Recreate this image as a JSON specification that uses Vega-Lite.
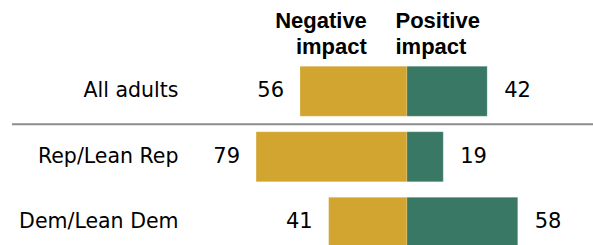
{
  "$schema": "https://vega.github.io/schema/vega-lite/v6.json",
  "width": 403,
  "height": 248,
  "autosize": {"type": "none"},
  "padding": {"left": 190, "top": 0, "right": 0, "bottom": 0},
  "background": "white",
  "config": {"view": {"stroke": null}, "font": "DejaVu Sans"},
  "datasets": {
    "bars": [
      {"group": "All adults", "impact": "Negative", "pct": 56, "lo": -56, "hi": 0},
      {"group": "All adults", "impact": "Positive", "pct": 42, "lo": 0, "hi": 42},
      {"group": "Rep/Lean Rep", "impact": "Negative", "pct": 79, "lo": -79, "hi": 0},
      {"group": "Rep/Lean Rep", "impact": "Positive", "pct": 19, "lo": 0, "hi": 19},
      {"group": "Dem/Lean Dem", "impact": "Negative", "pct": 41, "lo": -41, "hi": 0},
      {"group": "Dem/Lean Dem", "impact": "Positive", "pct": 58, "lo": 0, "hi": 58}
    ],
    "headers": [
      {"group": "hdr", "impact": "Negative", "label": "Negative\nimpact", "pos": -21},
      {"group": "hdr", "impact": "Positive", "label": "Positive\nimpact", "pos": -6}
    ],
    "sep": [
      {"group": "Rep/Lean Rep", "from": -206.8, "to": 97.4}
    ]
  },
  "layer": [
    {
      "data": {"name": "bars"},
      "mark": {"type": "bar", "stroke": "#ffffff", "strokeOpacity": 0.4, "strokeWidth": 0.5},
      "encoding": {
        "y": {
          "field": "group", "type": "nominal",
          "scale": {"domain": ["hdr", "All adults", "Rep/Lean Rep", "Dem/Lean Dem"], "paddingInner": 0.237, "paddingOuter": 0.01},
          "axis": {
            "title": null, "domain": false, "ticks": false, "labelPadding": 12,
            "labelFontSize": 20.5, "labelColor": "#000000", "labelFont": "DejaVu Sans",
            "labelExpr": "datum.value == 'hdr' ? '' : datum.value"
          }
        },
        "x": {"field": "lo", "type": "quantitative", "scale": {"domain": [-113.6, 97.4], "nice": false, "zero": false}, "axis": null},
        "x2": {"field": "hi"},
        "color": {
          "field": "impact", "type": "nominal",
          "scale": {"domain": ["Negative", "Positive"], "range": ["#D2A530", "#3A7866"]},
          "legend": null
        }
      }
    },
    {
      "data": {"name": "bars"},
      "transform": [{"filter": "datum.impact == 'Negative'"}],
      "mark": {"type": "text", "align": "right", "dx": -16, "fontSize": 21, "color": "#000000"},
      "encoding": {
        "y": {"field": "group", "type": "nominal"},
        "x": {"field": "lo", "type": "quantitative"},
        "text": {"field": "pct", "type": "quantitative"}
      }
    },
    {
      "data": {"name": "bars"},
      "transform": [{"filter": "datum.impact == 'Positive'"}],
      "mark": {"type": "text", "align": "left", "dx": 17, "fontSize": 21, "color": "#000000"},
      "encoding": {
        "y": {"field": "group", "type": "nominal"},
        "x": {"field": "hi", "type": "quantitative"},
        "text": {"field": "pct", "type": "quantitative"}
      }
    },
    {
      "data": {"name": "headers"},
      "transform": [{"filter": "datum.impact == 'Negative'"}],
      "mark": {"type": "text", "align": "right", "baseline": "middle", "lineBreak": "\n", "lineHeight": 26, "dy": -5, "fontSize": 22, "fontWeight": "bold", "font": "Liberation Sans", "color": "#000000"},
      "encoding": {
        "y": {"field": "group", "type": "nominal"},
        "x": {"field": "pos", "type": "quantitative"},
        "text": {"field": "label"}
      }
    },
    {
      "data": {"name": "headers"},
      "transform": [{"filter": "datum.impact == 'Positive'"}],
      "mark": {"type": "text", "align": "left", "baseline": "middle", "lineBreak": "\n", "lineHeight": 26, "dy": -5, "fontSize": 22, "fontWeight": "bold", "font": "Liberation Sans", "color": "#000000"},
      "encoding": {
        "y": {"field": "group", "type": "nominal"},
        "x": {"field": "pos", "type": "quantitative"},
        "text": {"field": "label"}
      }
    },
    {
      "data": {"name": "sep"},
      "mark": {"type": "rule", "color": "#8C8C8C", "strokeWidth": 2, "yOffset": -7.5, "clip": false},
      "encoding": {
        "y": {"field": "group", "type": "nominal", "bandPosition": 0},
        "x": {"field": "from", "type": "quantitative"},
        "x2": {"field": "to"}
      }
    }
  ]
}
